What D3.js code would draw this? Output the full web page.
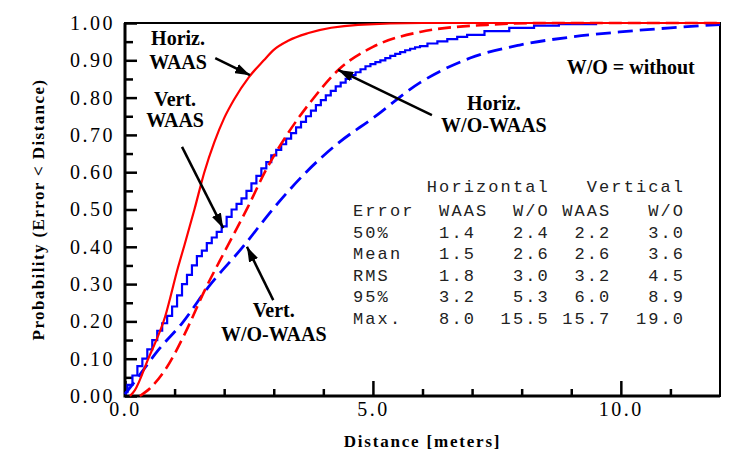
<!DOCTYPE html>
<html>
  <head>
    <script type="text/javascript" src="https://cdn.jsdelivr.net/npm/d3@7"></script>
    <style>
      body { margin: 0; background: #fff; }
    </style>
  </head>
  <body>
    <div id="viz"></div>
    <script type="text/javascript">
      // CDF curves, [distance m, probability]
      const horizWaas = [[0.1,0],[0.2,0.016],[0.46,0.097],[0.81,0.213],[1.07,0.345],[1.2,0.405],[1.4,0.5],
        [1.6,0.6],[1.8,0.68],[2.0,0.745],[2.2,0.795],[2.5,0.855],[2.8,0.9],[3.0,0.928],[3.3,0.953],
        [3.7,0.973],[4.7,0.995],[6.0,1.0],[12,1.0]];
      const horizWo = [[0.3,0],[0.5,0.02],[0.81,0.07],[1.21,0.168],[1.61,0.284],[2.02,0.39],[2.48,0.507],
        [2.82,0.6],[3.29,0.705],[3.77,0.793],[4.3,0.874],[5.0,0.936],[5.95,0.976],[7.3,0.995],[8.5,1.0],[12,1.0]];
      const vertWo = [[0,0.005],[0.26,0.05],[0.67,0.123],[1.15,0.195],[1.68,0.292],[2.36,0.397],[3.02,0.507],
        [3.63,0.597],[4.3,0.678],[5.0,0.745],[5.95,0.84],[6.96,0.906],[7.96,0.941],[8.97,0.962],[9.98,0.976],
        [11.0,0.987],[12,0.996]];
      // vertical WAAS is binned at 0.1 m, so it is drawn as steps
      const vertWaas = [[0,0.01],[0.1,0.03],[0.2,0.055],[0.3,0.08],[0.4,0.1],[0.5,0.125],[0.6,0.15],[0.7,0.175],
        [0.8,0.195],[0.9,0.215],[1.0,0.24],[1.1,0.27],[1.2,0.3],[1.3,0.325],[1.4,0.35],[1.5,0.375],[1.6,0.39],
        [1.7,0.41],[1.8,0.425],[1.9,0.44],[2.0,0.455],[2.1,0.48],[2.2,0.5],[2.3,0.515],[2.4,0.53],[2.5,0.55],
        [2.6,0.57],[2.7,0.59],[2.8,0.61],[2.9,0.627],[3.0,0.645],[3.1,0.66],[3.2,0.675],[3.3,0.69],[3.4,0.705],
        [3.5,0.72],[3.6,0.735],[3.7,0.75],[3.8,0.765],[3.9,0.78],[4.0,0.793],[4.1,0.806],[4.2,0.818],[4.3,0.83],
        [4.4,0.84],[4.5,0.85],[4.6,0.86],[4.7,0.868],[4.8,0.876],[4.9,0.884],[5.0,0.89],[5.1,0.895],[5.2,0.9],
        [5.3,0.906],[5.4,0.912],[5.5,0.917],[5.6,0.922],[5.7,0.927],[5.8,0.931],[5.9,0.935],[6.0,0.938],
        [6.2,0.945],[6.4,0.951],[6.6,0.957],[6.8,0.963],[7.0,0.968],[7.5,0.978],[8.0,0.987],[8.5,0.993],
        [9.0,0.997],[10,1.0],[12,1.0]];

      const xMajorTicks = [0, 5, 10];
      const xMinorTicks = [1, 2, 3, 4, 6, 7, 8, 9, 11];
      const yMajorTicks = [0, 0.1, 0.2, 0.3, 0.4, 0.5, 0.6, 0.7, 0.8, 0.9, 1.0];
      const yMinorTicks = [0.05, 0.15, 0.25, 0.35, 0.45, 0.55, 0.65, 0.75, 0.85, 0.95];

      // statistics table
      const statNames = ["50%", "Mean", "RMS", "95%", "Max."];
      const hWaasStats = [1.4, 1.5, 1.8, 3.2, 8.0];
      const hWoStats = [2.4, 2.6, 3.0, 5.3, 15.5];
      const vWaasStats = [2.2, 2.6, 3.2, 6.0, 15.7];
      const vWoStats = [3.0, 3.6, 4.5, 8.9, 19.0];

      // annotation text (data coords) and arrows [from, to]
      const labels = [
        {t: "Horiz.", x: 1.07, y: 0.941}, {t: "WAAS", x: 1.07, y: 0.877},
        {t: "Vert.", x: 1.01, y: 0.777}, {t: "WAAS", x: 1.01, y: 0.721},
        {t: "Horiz.", x: 7.44, y: 0.767}, {t: "W/O-WAAS", x: 7.44, y: 0.708},
        {t: "Vert.", x: 3.0, y: 0.212}, {t: "W/O-WAAS", x: 3.0, y: 0.147},
        {t: "W/O = without", x: 10.2, y: 0.863}
      ];
      const arrows = [
        [[1.82, 0.906], [2.52, 0.86]],
        [[1.15, 0.668], [1.98, 0.45]],
        [[6.19, 0.753], [4.30, 0.874]],
        [[2.99, 0.257], [2.46, 0.40]]
      ];

      const width = 732, height = 455;
      const x = d3.scaleLinear().domain([0, 12]).range([125, 720]);
      const y = d3.scaleLinear().domain([0, 1]).range([396, 23]);

      const svg = d3.select("#viz").append("svg")
        .attr("width", width).attr("height", height);

      svg.append("defs").append("marker")
        .attr("id", "head")
        .attr("markerUnits", "userSpaceOnUse")
        .attr("markerWidth", 16).attr("markerHeight", 10)
        .attr("refX", 15).attr("refY", 5)
        .attr("orient", "auto")
        .append("path").attr("d", "M0,0 L15,5 L0,10 Z").attr("fill", "black");

      // axes
      function styleAxis(g) {
        g.select(".domain").remove();
        g.selectAll(".tick line").attr("stroke", "black").attr("stroke-width", 2.5);
        g.selectAll(".tick text")
          .attr("fill", "black")
          .style("font-family", "'Liberation Serif', serif")
          .style("font-size", "20px")
          .style("letter-spacing", "2.5px");
      }

      svg.append("g").attr("transform", "translate(125,0)")
        .call(d3.axisLeft(y).tickValues(yMinorTicks).tickSize(-8).tickFormat(""))
        .call(styleAxis);
      svg.append("g").attr("transform", "translate(125,0)")
        .call(d3.axisLeft(y).tickValues(yMajorTicks).tickSize(-12).tickPadding(10).tickFormat(d3.format(".2f")))
        .call(styleAxis);
      svg.append("g").attr("transform", "translate(0,396)")
        .call(d3.axisBottom(x).tickValues(xMinorTicks).tickSize(-7).tickFormat(""))
        .call(styleAxis);
      svg.append("g").attr("transform", "translate(0,396)")
        .call(d3.axisBottom(x).tickValues(xMajorTicks).tickSize(-15).tickPadding(6).tickFormat(d3.format(".1f")))
        .call(styleAxis);

      // frame
      svg.append("rect")
        .attr("x", x(0)).attr("y", y(1))
        .attr("width", x(12) - x(0)).attr("height", y(0) - y(1))
        .attr("fill", "none").attr("stroke", "black").attr("stroke-width", 2);
      svg.append("path")
        .attr("d", "M" + x(0) + "," + y(1) + "V" + y(0) + "H" + x(12))
        .attr("fill", "none").attr("stroke", "black").attr("stroke-width", 3);

      // curves
      const smooth = d3.line().x(d => x(d[0])).y(d => y(d[1])).curve(d3.curveMonotoneX);
      const steps = d3.line().x(d => x(d[0])).y(d => y(d[1])).curve(d3.curveStep);

      const series = [
        {data: vertWo, color: "#0000ff", dash: "15,7", w: 2.8, line: smooth},
        {data: vertWaas, color: "#0000ff", dash: null, w: 2.2, line: steps},
        {data: horizWo, color: "#ff0000", dash: "13,6", w: 2.6, line: smooth},
        {data: horizWaas, color: "#ff0000", dash: null, w: 2.2, line: smooth}
      ];
      svg.selectAll("path.cdf")
        .data(series)
        .enter().append("path")
        .attr("class", "cdf")
        .attr("d", s => s.line(s.data))
        .attr("fill", "none")
        .attr("stroke", s => s.color)
        .attr("stroke-width", s => s.w)
        .attr("stroke-dasharray", s => s.dash);

      // annotations
      svg.selectAll("line.arrow")
        .data(arrows)
        .enter().append("line")
        .attr("class", "arrow")
        .attr("x1", d => x(d[0][0])).attr("y1", d => y(d[0][1]))
        .attr("x2", d => x(d[1][0])).attr("y2", d => y(d[1][1]))
        .attr("stroke", "black").attr("stroke-width", 2.5)
        .attr("marker-end", "url(#head)");

      svg.selectAll("text.label")
        .data(labels)
        .enter().append("text")
        .attr("class", "label")
        .attr("x", d => x(d.x)).attr("y", d => y(d.y))
        .attr("text-anchor", "middle")
        .style("font-family", "'Liberation Serif', serif")
        .style("font-weight", "bold")
        .style("font-size", "20px")
        .text(d => d.t);

      // axis titles
      svg.append("text")
        .attr("x", (x(0) + x(12)) / 2).attr("y", 447)
        .attr("text-anchor", "middle")
        .style("font-family", "'Liberation Serif', serif")
        .style("font-weight", "bold").style("font-size", "17px")
        .style("letter-spacing", "1.8px")
        .text("Distance [meters]");
      svg.append("text")
        .attr("transform", "translate(44," + (y(0) + y(1)) / 2 + ") rotate(-90)")
        .attr("text-anchor", "middle")
        .style("font-family", "'Liberation Serif', serif")
        .style("font-weight", "bold").style("font-size", "17px")
        .style("letter-spacing", "1.4px")
        .text("Probability (Error < Distance)");

      // stats table, monospaced rows
      const fmt = d3.format(".1f");
      const tableRows = ["      Horizontal   Vertical",
        "Error" + "WAAS".padStart(6) + "W/O".padStart(5) + "WAAS".padStart(5) + "W/O".padStart(6)];
      statNames.forEach((n, i) => {
        tableRows.push(n.padEnd(5) + fmt(hWaasStats[i]).padStart(5) + fmt(hWoStats[i]).padStart(6)
          + fmt(vWaasStats[i]).padStart(5) + fmt(vWoStats[i]).padStart(6));
      });
      svg.selectAll("text.tbl")
        .data(tableRows)
        .enter().append("text")
        .attr("class", "tbl")
        .attr("x", 353)
        .attr("y", (d, i) => i === 0 ? 192 : 216 + 21.6 * (i - 1))
        .style("white-space", "pre")
        .style("font-family", "'Liberation Mono', monospace")
        .style("font-size", "17px")
        .style("letter-spacing", "2.1px")
        .attr("fill", "#222")
        .text(d => d);
    </script>
  </body>
</html>
